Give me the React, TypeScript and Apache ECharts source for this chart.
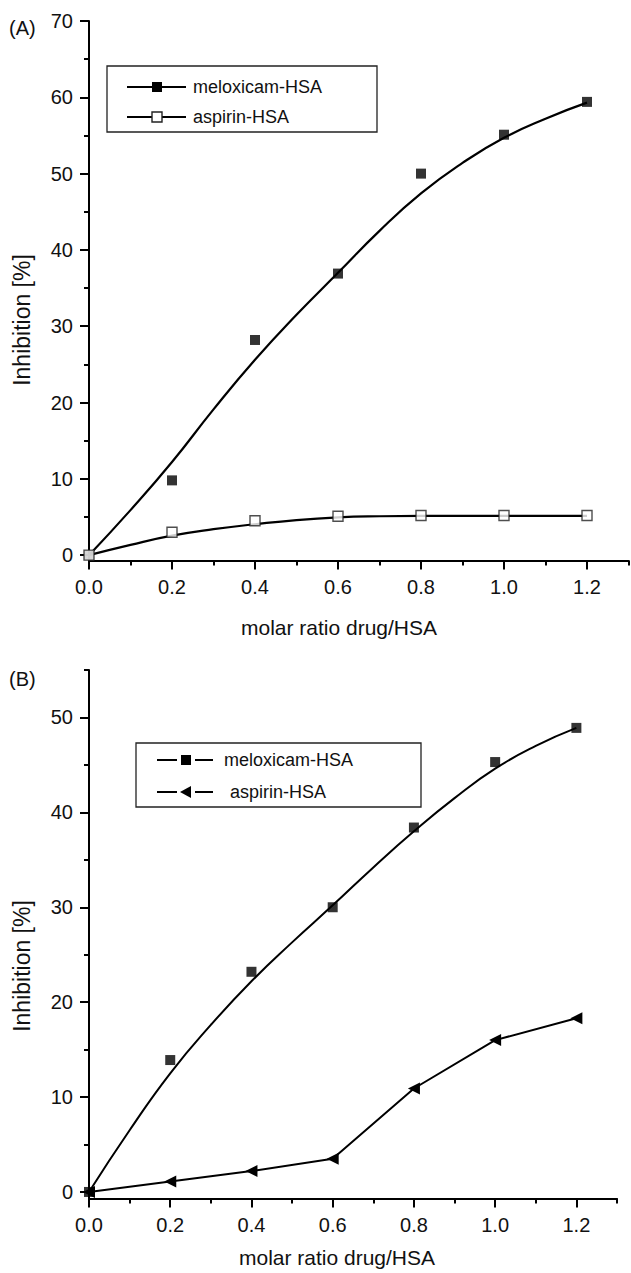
import React, { useEffect, useRef } from "react";
import * as echarts from "echarts";

const FONT = "'Liberation Sans', Arial, sans-serif";

// ticks
const xMajor = [0, 0.2, 0.4, 0.6, 0.8, 1.0, 1.2];
const xMinor = [0.1, 0.3, 0.5, 0.7, 0.9, 1.1, 1.3];
const yMajorA = [0, 10, 20, 30, 40, 50, 60, 70];
const yMinorA = [5, 15, 25, 35, 45, 55, 65];
const yMajorB = [0, 10, 20, 30, 40, 50];
const yMinorB = [5, 15, 25, 35, 45, 55];

// measured points
const ratio = [0, 0.2, 0.4, 0.6, 0.8, 1.0, 1.2];
const meloxA = [0, 9.8, 28.2, 36.9, 50.0, 55.1, 59.4];
const aspirinA = [0, 3.0, 4.5, 5.1, 5.2, 5.2, 5.2];
const meloxB = [0, 13.9, 23.2, 30.0, 38.4, 45.3, 48.9];
const aspirinB = [0, 1.1, 2.2, 3.5, 10.9, 16.0, 18.3];

// fitted curves
const fitX = [0, 0.1, 0.2, 0.3, 0.4, 0.5, 0.6, 0.7, 0.8, 0.9, 1.0, 1.1, 1.2];
const meloxFitA = [0, 5.9, 12.2, 19.1, 25.6, 31.5, 37.0, 42.5, 47.4, 51.4, 54.7, 57.2, 59.3];
const aspirinFitA = [0, 1.35, 2.55, 3.4, 4.05, 4.6, 4.95, 5.1, 5.15, 5.15, 5.15, 5.15, 5.15];
const meloxFitB = [0, 6.5, 12.5, 17.6, 22.2, 26.3, 30.2, 34.2, 38.0, 41.5, 44.6, 47.0, 48.9];

const legendNames = ["meloxicam-HSA", "aspirin-HSA"];

const pairs = (xs: number[], ys: number[]) => xs.map((x, i) => [x, ys[i]]);

function xAxes(grid: number) {
  return [
    {
      type: "value",
      gridIndex: grid,
      position: "bottom",
      min: 0,
      max: 1.3,
      axisLine: { show: true, onZero: false, lineStyle: { color: "#000", width: 2 } },
      axisTick: { show: true, inside: false, length: 9, customValues: xMajor, lineStyle: { color: "#000", width: 2 } },
      axisLabel: {
        show: true,
        customValues: xMajor,
        formatter: (v: number) => v.toFixed(1),
        fontSize: 20,
        fontFamily: FONT,
        color: "#111",
        margin: 16,
      },
      splitLine: { show: false },
    },
    {
      type: "value",
      gridIndex: grid,
      position: "bottom",
      min: 0,
      max: 1.3,
      axisLine: { show: false, onZero: false },
      axisTick: { show: true, inside: false, length: 5, customValues: xMinor, lineStyle: { color: "#000", width: 2 } },
      axisLabel: { show: false },
      splitLine: { show: false },
    },
  ];
}

function yAxes(grid: number, max: number, major: number[], minor: number[]) {
  return [
    {
      type: "value",
      gridIndex: grid,
      position: "left",
      min: -0.7,
      max,
      axisLine: { show: true, onZero: false, lineStyle: { color: "#000", width: 2 } },
      axisTick: { show: true, inside: false, length: 9, customValues: major, lineStyle: { color: "#000", width: 2 } },
      axisLabel: {
        show: true,
        customValues: major,
        formatter: (v: number) => String(Math.round(v)),
        fontSize: 20,
        fontFamily: FONT,
        color: "#111",
        margin: 16,
      },
      splitLine: { show: false },
    },
    {
      type: "value",
      gridIndex: grid,
      position: "left",
      min: -0.7,
      max,
      axisLine: { show: false, onZero: false },
      axisTick: { show: true, inside: false, length: 5, customValues: minor, lineStyle: { color: "#000", width: 2 } },
      axisLabel: { show: false },
      splitLine: { show: false },
    },
  ];
}

const txt = (text: string, x: number, y: number, size: number, extra: any = {}) => ({
  type: "text",
  x,
  y,
  silent: true,
  style: { text, fontSize: size, fontFamily: FONT, fill: "#111", verticalAlign: "middle", align: "left", ...extra },
});

export default function App() {
  const ref = useRef<HTMLDivElement>(null);

  useEffect(() => {
    if (!ref.current) return;
    const chart = echarts.init(ref.current, undefined, { renderer: "svg" });

    const black = "#000";

    const option: any = {
      animation: false,
      backgroundColor: "#fff",
      grid: [
        { left: 89, top: 21, width: 539.5, height: 539.5 },
        { left: 89, top: 670, width: 528, height: 528.6 },
      ],
      xAxis: [...xAxes(0), ...xAxes(1)],
      yAxis: [...yAxes(0, 70, yMajorA, yMinorA), ...yAxes(1, 55, yMajorB, yMinorB)],
      series: [
        // Panel A
        {
          type: "line",
          name: "meloxicam-HSA fit A",
          xAxisIndex: 0,
          yAxisIndex: 0,
          data: pairs(fitX, meloxFitA),
          smooth: 0.5,
          showSymbol: false,
          lineStyle: { color: black, width: 2.2 },
          z: 2,
        },
        {
          type: "line",
          name: "aspirin-HSA fit A",
          xAxisIndex: 0,
          yAxisIndex: 0,
          data: pairs(fitX, aspirinFitA),
          smooth: 0.5,
          showSymbol: false,
          lineStyle: { color: black, width: 2.2 },
          z: 2,
        },
        {
          type: "scatter",
          name: legendNames[0] + " A",
          xAxisIndex: 0,
          yAxisIndex: 0,
          data: pairs(ratio, meloxA),
          symbol: "rect",
          symbolSize: 10,
          itemStyle: { color: black },
          z: 3,
        },
        {
          type: "scatter",
          name: legendNames[1] + " A",
          xAxisIndex: 0,
          yAxisIndex: 0,
          data: pairs(ratio, aspirinA),
          symbol: "rect",
          symbolSize: 10,
          itemStyle: { color: "#fff", borderColor: "#222", borderWidth: 1.4 },
          z: 4,
        },
        // Panel B
        {
          type: "line",
          name: "meloxicam-HSA fit B",
          xAxisIndex: 2,
          yAxisIndex: 2,
          data: pairs(fitX, meloxFitB),
          smooth: 0.5,
          showSymbol: false,
          lineStyle: { color: black, width: 2 },
          z: 2,
        },
        {
          type: "scatter",
          name: legendNames[0] + " B",
          xAxisIndex: 2,
          yAxisIndex: 2,
          data: pairs(ratio, meloxB),
          symbol: "rect",
          symbolSize: 10,
          itemStyle: { color: black },
          z: 4,
        },
        {
          type: "line",
          name: legendNames[1] + " B",
          xAxisIndex: 2,
          yAxisIndex: 2,
          data: pairs(ratio, aspirinB),
          symbol: "triangle",
          symbolRotate: 90,
          symbolSize: 12,
          showAllSymbol: true,
          itemStyle: { color: black },
          lineStyle: { color: black, width: 2 },
          z: 3,
        },
      ],
      graphic: [
        txt("(A)", 9, 28, 20),
        txt("(B)", 9, 679, 20),
        { ...txt("Inhibition [%]", 22, 320, 23, { align: "center" }), rotation: Math.PI / 2 },
        { ...txt("Inhibition [%]", 22, 966, 23, { align: "center" }), rotation: Math.PI / 2 },
        txt("molar ratio drug/HSA", 339, 627, 21, { align: "center" }),
        txt("molar ratio drug/HSA", 337, 1257, 21, { align: "center" }),
        // legend A
        { type: "rect", silent: true, shape: { x: 107, y: 66, width: 270, height: 66 }, style: { fill: "#fff", stroke: "#222", lineWidth: 1.3 }, z: 10 },
        { type: "line", silent: true, shape: { x1: 127, y1: 87, x2: 186, y2: 87 }, style: { stroke: black, lineWidth: 2 }, z: 11 },
        { type: "rect", silent: true, shape: { x: 152, y: 82, width: 10, height: 10 }, style: { fill: black }, z: 12 },
        { ...txt(legendNames[0], 193, 87, 18), z: 11 },
        { type: "line", silent: true, shape: { x1: 127, y1: 117, x2: 186, y2: 117 }, style: { stroke: black, lineWidth: 2 }, z: 11 },
        { type: "rect", silent: true, shape: { x: 152, y: 112, width: 10, height: 10 }, style: { fill: "#fff", stroke: "#222", lineWidth: 1.4 }, z: 12 },
        { ...txt(legendNames[1], 193, 117, 18), z: 11 },
        // legend B
        { type: "rect", silent: true, shape: { x: 136, y: 743, width: 285, height: 64 }, style: { fill: "#fff", stroke: "#222", lineWidth: 1.3 }, z: 10 },
        { type: "line", silent: true, shape: { x1: 157, y1: 760, x2: 177, y2: 760 }, style: { stroke: black, lineWidth: 2 }, z: 11 },
        { type: "line", silent: true, shape: { x1: 195, y1: 760, x2: 213, y2: 760 }, style: { stroke: black, lineWidth: 2 }, z: 11 },
        { type: "rect", silent: true, shape: { x: 181, y: 755, width: 10, height: 10 }, style: { fill: black }, z: 12 },
        { ...txt(legendNames[0], 224, 760, 18), z: 11 },
        { type: "line", silent: true, shape: { x1: 157, y1: 792, x2: 177, y2: 792 }, style: { stroke: black, lineWidth: 2 }, z: 11 },
        { type: "line", silent: true, shape: { x1: 195, y1: 792, x2: 213, y2: 792 }, style: { stroke: black, lineWidth: 2 }, z: 11 },
        { type: "polygon", silent: true, shape: { points: [[191, 786], [191, 798], [180, 792]] }, style: { fill: black }, z: 12 },
        { ...txt(legendNames[1], 230, 792, 18), z: 11 },
      ],
    };

    chart.setOption(option);
    return () => chart.dispose();
  }, []);

  return (
    <div
      ref={ref}
      style={{ position: "absolute", left: 0, top: 0, width: 631, height: 1273, background: "#fff" }}
    />
  );
}
